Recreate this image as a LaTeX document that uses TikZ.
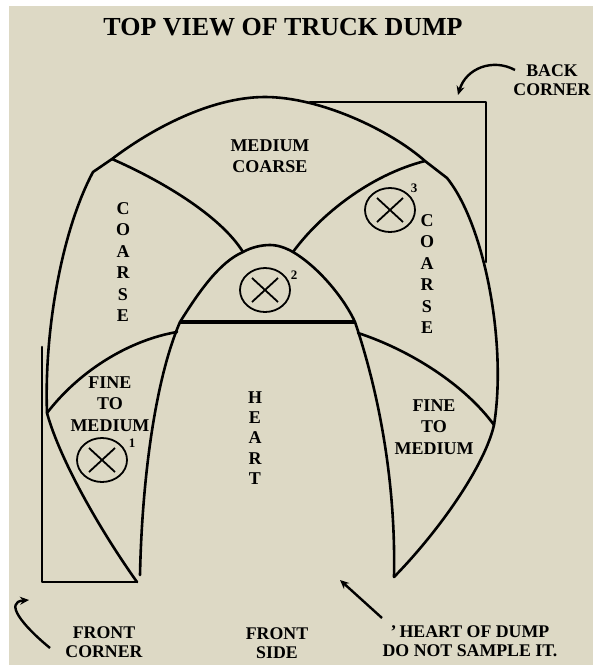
\documentclass[tikz,border=0pt]{standalone}
\usepackage{fontspec}
\setmainfont{Liberation Serif}
\usetikzlibrary{arrows.meta,shapes.geometric}
\definecolor{sandbg}{RGB}{221,217,197}
\begin{document}
\begin{tikzpicture}[x=1pt, y=-1pt,
    wall/.style={line width=2.6pt, line cap=round, line join=round},
    zone/.style={font=\bfseries\fontsize{18}{21.5}\selectfont, align=center, inner sep=0pt},
    note/.style={font=\bfseries\fontsize{17.8}{19.5}\selectfont, align=center, inner sep=0pt},
    sample/.style={ellipse, draw, line width=1.8pt, minimum width=50pt, minimum height=44pt,
      inner sep=0pt, path picture={
        \draw[line width=1.8pt]
          ([shift={(-13,-12)}]path picture bounding box.center) -- ([shift={(13,12)}]path picture bounding box.center)
          ([shift={(-13,12)}]path picture bounding box.center) -- ([shift={(13,-12)}]path picture bounding box.center);}},
    num/.style={font=\bfseries\fontsize{13}{14}\selectfont, inner sep=0pt},
    pointer/.style={line width=2.4pt, -{Stealth[length=9pt,width=8pt]}}
  ]
    \useasboundingbox (0,0) rectangle (593,665);
    \fill[white] (0,0) rectangle (593,665);
    \fill[sandbg] (9,6) rectangle (593,665);

    % junctions on the outer edge
    \coordinate (olb)   at (137,582);
    \coordinate (lfm)   at (47,413);
    \coordinate (lkink) at (93,172);
    \coordinate (ltop)  at (112,159);
    \coordinate (apex)  at (265,97);
    \coordinate (rtop)  at (425,161);
    \coordinate (rkink) at (447,178);
    \coordinate (rfm)   at (494,425);
    \coordinate (orb)   at (394,577);
    % junctions on the heart
    \coordinate (hlb) at (140,575);
    \coordinate (hl)  at (180,322);
    \coordinate (hr)  at (355,322);
    \coordinate (hlj) at (177,332);
    \coordinate (hrj) at (358,333);
    \coordinate (htl) at (243,252);
    \coordinate (htop) at (270,245);
    \coordinate (htr) at (293,252);

    % outer edge of the pile
    \draw[wall] (olb) .. controls (100,530) and (60,460) .. (lfm)
      .. controls (44,330) and (62,230) .. (lkink) -- (ltop)
      .. controls (150,130) and (210,97) .. (apex)
      .. controls (320,97) and (390,130) .. (rtop) -- (rkink)
      .. controls (485,225) and (507,345) .. (rfm)
      .. controls (485,465) and (440,530) .. (orb);
    % heart
    \draw[wall] (hlb) .. controls (142,480) and (155,380) .. (hl)
      .. controls (200,290) and (220,262) .. (htl)
      .. controls (252,247) and (262,245) .. (htop)
      .. controls (278,245) and (286,248) .. (htr)
      .. controls (320,268) and (345,300) .. (hr)
      .. controls (378,390) and (396,480) .. (orb);
    \draw[line width=4pt] (hl) -- (hr);
    % zone borders
    \draw[wall] (ltop) .. controls (160,180) and (220,215) .. (htl);
    \draw[wall] (htr) .. controls (320,215) and (370,175) .. (rtop);
    \draw[wall] (lfm) .. controls (80,370) and (130,340) .. (hlj);
    \draw[wall] (hrj) .. controls (410,350) and (465,385) .. (rfm);
    % corners of the dump
    \draw[wall] (42,347) -- (42,582) -- (olb);
    \draw[wall] (310,102) -- (486,102) -- (486,262);

    % sample points
    \node[sample] (s1) at (102,460) {};
    \node[sample] (s2) at (265,290) {};
    \node[sample] (s3) at (390,210) {};
    \node[num] (n1) at (132,443) {1};
    \node[num] (n2) at (294,275) {2};
    \node[num] (n3) at (414,188) {3};

    % zone names
    \node[zone] (mc)  at (270,156) {MEDIUM\\COARSE};
    \node[zone] (cl)  at (123,262) {C\\O\\A\\R\\S\\E};
    \node[zone] (cr)  at (427,274) {C\\O\\A\\R\\S\\E};
    \node[zone] (fml) at (110,404) {FINE\\TO\\MEDIUM};
    \node[zone] (fmr) at (434,427) {FINE\\TO\\MEDIUM};
    \node[zone, font=\bfseries\fontsize{18}{20.2}\selectfont] (heart) at (255,438) {H\\E\\A\\R\\T};

    % title and notes
    \node[font=\bfseries\fontsize{26}{28}\selectfont] (title) at (283,27) {TOP VIEW OF TRUCK DUMP};
    \node[note] (back)  at (552,80)  {BACK\\CORNER};
    \node[note] (front) at (104,642) {FRONT\\CORNER};
    \node[note] (side)  at (277,643) {FRONT\\SIDE};
    \node[note] (dump)  at (470,641) {'\,HEART OF DUMP\\DO NOT SAMPLE IT.};

    % pointers
    \coordinate (bt) at (515,70);
    \coordinate (bh) at (458,95);
    \coordinate (ft) at (50,648);
    \coordinate (fh) at (29,600);
    \coordinate (dt) at (382,618);
    \coordinate (dh) at (340,580);
    \draw[pointer] (bt) .. controls (493,58) and (466,68) .. (bh);
    \draw[pointer] (ft) .. controls (22,625) and (4,602) .. (fh);
    \draw[pointer] (dt) -- (dh);
\end{tikzpicture}
\end{document}
